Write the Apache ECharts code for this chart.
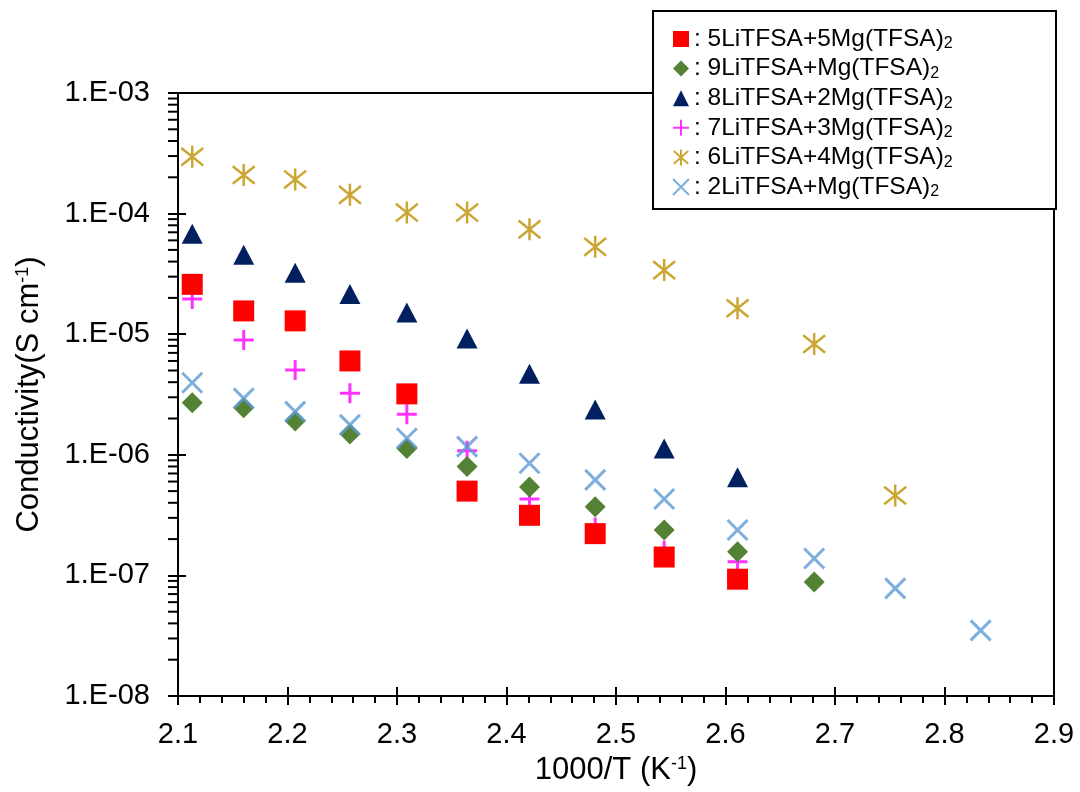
<!DOCTYPE html>
<html>
<head>
<meta charset="utf-8">
<script src="https://cdn.jsdelivr.net/npm/echarts@6/dist/echarts.min.js"></script>
<style>
  html, body { margin: 0; padding: 0; background: #fff; }
  #chart { width: 1080px; height: 792px; }
</style>
</head>
<body>
<div id="chart"></div>
<script>
// 1000/T for each measuring temperature
const xValues = [2.113, 2.160, 2.207, 2.257, 2.309, 2.364, 2.421, 2.481, 2.544, 2.611, 2.681, 2.755, 2.833]

const li5mg5 = [2.59e-5, 1.56e-5, 1.29e-5, 6.0e-6, 3.2e-6, 5.0e-7, 3.15e-7, 2.22e-7, 1.42e-7, 9.3e-8]
const li9mg1 = [2.70e-6, 2.46e-6, 1.91e-6, 1.49e-6, 1.13e-6, 8.0e-7, 5.4e-7, 3.7e-7, 2.38e-7, 1.57e-7, 8.8e-8]
const li8mg2 = [6.8e-5, 4.56e-5, 3.24e-5, 2.15e-5, 1.51e-5, 9.2e-6, 4.7e-6, 2.38e-6, 1.13e-6, 6.5e-7]
const li7mg3 = [1.96e-5, 8.95e-6, 5.05e-6, 3.24e-6, 2.17e-6, 1.08e-6, 4.3e-7, 2.5e-7, 1.6e-7, 1.3e-7]
const li6mg4 = [2.96e-4, 2.09e-4, 1.92e-4, 1.43e-4, 1.02e-4, 1.02e-4, 7.4e-5, 5.3e-5, 3.4e-5, 1.64e-5, 8.3e-6, 4.6e-7]
const li2mg1 = [3.96e-6, 2.94e-6, 2.28e-6, 1.77e-6, 1.37e-6, 1.17e-6, 8.5e-7, 6.2e-7, 4.3e-7, 2.38e-7, 1.38e-7, 7.8e-8, 3.5e-8]

const seriesNames = [
  '5LiTFSA+5Mg(TFSA)',
  '9LiTFSA+Mg(TFSA)',
  '8LiTFSA+2Mg(TFSA)',
  '7LiTFSA+3Mg(TFSA)',
  '6LiTFSA+4Mg(TFSA)',
  '2LiTFSA+Mg(TFSA)',
]

const xMin = 2.1
const xMax = 2.9
const yMin = 1e-8
const yMax = 1e-3

// minor log ticks 2..9 of each decade
const yMinor = []
for (let n = -8; n < -3; n++) {
  for (let k = 2; k <= 9; k++)
    yMinor.push(k * Math.pow(10, n))
}

function pairs(values) {
  return values.map((v, i) => [xValues[i], v])
}

const font = '"Liberation Sans", Arial, sans-serif'
const PLUS = 'path://M0,5 L10,5 M5,0 L5,10'
const STAR = 'path://M5,0 L5,10 M0.5,1 L9.5,9 M0.5,9 L9.5,1'
const CROSS = 'path://M0,0 L10,10 M0,10 L10,0'

const myChart = echarts.init(document.getElementById('chart'), null, { renderer: 'canvas' })

function strokeStyle(color, width) {
  return { color: 'rgba(0,0,0,0)', borderColor: color, borderWidth: width }
}

const supStyle = { fontFamily: font, fontSize: 18, color: '#000', verticalAlign: 'top', lineHeight: 16 }

const option = {
  animation: false,
  backgroundColor: '#fff',
  textStyle: { fontFamily: font },
  grid: {
    left: 178,
    right: 26,
    top: 93,
    bottom: 96,
    show: true,
    borderColor: '#000',
    borderWidth: 2,
  },
  graphic: [
    {
      type: 'rect',
      left: 652,
      top: 10,
      z: 50,
      shape: { width: 403, height: 198 },
      style: { fill: '#fff', stroke: '#000', lineWidth: 2 },
    },
  ],
  legend: {
    orient: 'vertical',
    left: 667,
    top: 21,
    z: 60,
    itemWidth: 16,
    itemHeight: 16,
    itemGap: 3.6,
    data: seriesNames,
    formatter: name => ': ' + name + '{sub|2}',
    textStyle: {
      fontFamily: font,
      fontSize: 24.5,
      color: '#000',
      lineHeight: 26,
      rich: {
        sub: { fontFamily: font, fontSize: 16, color: '#000', verticalAlign: 'bottom', lineHeight: 18 },
      },
    },
  },
  xAxis: [
    {
      type: 'value',
      min: xMin,
      max: xMax,
      interval: 0.1,
      name: '1000/T (K{sup|-1})',
      nameLocation: 'middle',
      nameGap: 59,
      nameTextStyle: {
        fontFamily: font,
        fontSize: 31,
        color: '#000',
        verticalAlign: 'top',
        rich: { sup: supStyle },
      },
      axisLine: { lineStyle: { color: '#000', width: 2 } },
      axisTick: { length: 9, lineStyle: { color: '#000', width: 2 } },
      minorTick: { show: true, splitNumber: 5, length: 7, lineStyle: { color: '#000', width: 2 } },
      splitLine: { show: false },
      axisLabel: { fontFamily: font, fontSize: 29, color: '#000', margin: 24, formatter: v => v.toFixed(1) },
    },
    {
      type: 'value',
      position: 'bottom',
      min: xMin,
      max: xMax,
      interval: 0.1,
      axisLine: { show: false },
      axisTick: { inside: true, length: 9, lineStyle: { color: '#000', width: 2 } },
      splitLine: { show: false },
      axisLabel: { show: false },
    },
  ],
  yAxis: [
    {
      type: 'log',
      logBase: 10,
      min: yMin,
      max: yMax,
      splitNumber: 5,
      name: 'Conductivity(S cm{sup|-1})',
      nameLocation: 'middle',
      nameGap: 133,
      nameRotate: 90,
      nameTextStyle: {
        fontFamily: font,
        fontSize: 31,
        color: '#000',
        rich: { sup: supStyle },
      },
      axisLine: { lineStyle: { color: '#000', width: 2 } },
      axisTick: { length: 10, lineStyle: { color: '#000', width: 2 } },
      splitLine: { show: false },
      axisLabel: {
        fontFamily: font,
        fontSize: 29,
        color: '#000',
        margin: 28,
        formatter: v => '1.E-' + String(-Math.round(Math.log10(v))).padStart(2, '0'),
      },
    },
    {
      type: 'log',
      logBase: 10,
      min: yMin,
      max: yMax,
      splitNumber: 5,
      position: 'left',
      axisLine: { show: false },
      axisTick: { inside: true, length: 8, lineStyle: { color: '#000', width: 2 } },
      splitLine: { show: false },
      axisLabel: { show: false },
    },
  ],
  series: [
    {
      name: seriesNames[0],
      type: 'scatter',
      symbol: 'rect',
      symbolSize: 21,
      itemStyle: { color: '#FF0000', opacity: 1 },
      data: pairs(li5mg5),
      z: 3,
    },
    {
      name: seriesNames[1],
      type: 'scatter',
      symbol: 'diamond',
      symbolSize: 21,
      itemStyle: { color: '#548235', opacity: 1 },
      data: pairs(li9mg1),
      z: 3,
    },
    {
      name: seriesNames[2],
      type: 'scatter',
      symbol: 'triangle',
      symbolSize: [21, 20],
      itemStyle: { color: '#002060', opacity: 1 },
      data: pairs(li8mg2),
      z: 3,
    },
    {
      name: seriesNames[3],
      type: 'scatter',
      symbol: PLUS,
      symbolSize: 20,
      itemStyle: strokeStyle('#FF00FF', 3),
      data: pairs(li7mg3),
      z: 2,
    },
    {
      name: seriesNames[4],
      type: 'scatter',
      symbol: STAR,
      symbolSize: 22,
      itemStyle: strokeStyle('#BF9000', 2.5),
      data: pairs(li6mg4),
      z: 3,
    },
    {
      name: seriesNames[5],
      type: 'scatter',
      symbol: CROSS,
      symbolSize: 20,
      itemStyle: strokeStyle('#5B9BD5', 3),
      data: pairs(li2mg1),
      z: 3,
    },
    {
      // log minor ticks on the y axis, outside
      type: 'custom',
      silent: true,
      clip: false,
      z: 4,
      data: yMinor.map(v => [xMin, v]),
      renderItem(params, api) {
        const p = api.coord([api.value(0), api.value(1)])
        return {
          type: 'line',
          shape: { x1: p[0] - 10, y1: p[1], x2: p[0], y2: p[1] },
          style: { stroke: '#000', lineWidth: 2 },
        }
      },
    },
  ],
}

myChart.setOption(option)
</script>
</body>
</html>
